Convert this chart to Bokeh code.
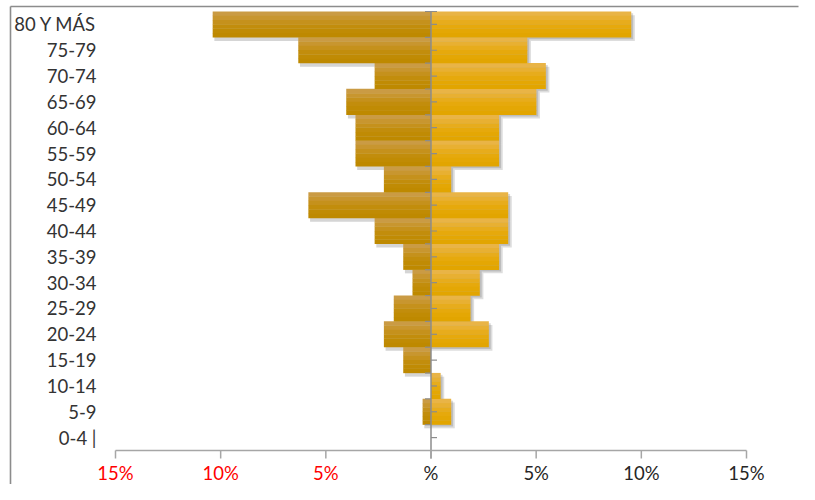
from bokeh.plotting import figure
from bokeh.models import Range1d, ColumnDataSource
from bokeh.embed import file_html
from bokeh.resources import INLINE

# ---- data (percent of population) ----
ages = ["0-4 |", "5-9", "10-14", "15-19", "20-24", "25-29", "30-34", "35-39",
        "40-44", "45-49", "50-54", "55-59", "60-64", "65-69", "70-74", "75-79", "80 Y MÁS"]
left_pct = [0, 0.40, 0, 1.32, 2.24, 1.77, 0.88, 1.32, 2.68, 5.83, 2.24, 3.59, 3.59,
            4.03, 2.68, 6.31, 10.38]
right_pct = [0, 0.96, 0.46, 0, 2.75, 1.88, 2.32, 3.24, 3.67, 3.67, 0.96, 3.24, 3.24,
             5.01, 5.46, 4.58, 9.52]
x_ticks = [-15, -10, -5, 0, 5, 10, 15]
x_tick_labels = ["15%", "10%", "5%", "%", "5%", "10%", "15%"]
x_tick_colors = ["#FF0000", "#FF0000", "#FF0000", "#262626", "#262626", "#262626", "#262626"]

FONT = "Lato"
W, H = 799, 484
# layout geometry (canvas pixels)
X0_PX, PX_PER_PCT = 430.5, 631.0 / 30.0
Y0_PX, PX_PER_ROW = 437.1, 439.0 / 17.0


def px_to_x(px):
    return (px - X0_PX) / PX_PER_PCT


def px_to_y(py):
    return (Y0_PX - py) / PX_PER_ROW


p = figure(width=W, height=H, output_backend="svg", toolbar_location=None,
           x_range=Range1d(px_to_x(0), px_to_x(W)),
           y_range=Range1d(px_to_y(H), px_to_y(0)),
           min_border=0, x_axis_type=None, y_axis_type=None)
p.outline_line_color = None
p.xgrid.visible = False
p.ygrid.visible = False
p.background_fill_color = "white"
p.border_fill_color = "white"

n = len(ages)
idx = list(range(n))
neg_left = [-v for v in left_pct]
src = ColumnDataSource(dict(
    y=idx, l=neg_left, r=right_pct, zero=[0] * n,
    shl=[v + 0.08 if v < 0 else 0 for v in neg_left],
    shr=[v + 0.17 if v > 0 else 0 for v in right_pct],
    shr2=[v + 0.09 if v > 0 else 0 for v in right_pct],
    ysh=[i - 0.14 for i in idx], ysh2=[i - 0.07 for i in idx],
))

# outer chart border (top and left edges)
bx, by = px_to_x(10), px_to_y(6)
p.segment(x0=[bx, bx], y0=[by, by], x1=[bx, px_to_x(W - 1)], y1=[px_to_y(H), by],
          line_color="#8c8c8c", line_width=1.6)

# shadows
p.hbar(y="ysh", left="shl", right="zero", height=1.0, source=src,
       fill_color="#404040", fill_alpha=0.22, line_color=None)
p.hbar(y="ysh", left="zero", right="shr", height=1.0, source=src,
       fill_color="#404040", fill_alpha=0.18, line_color=None)
p.hbar(y="ysh2", left="zero", right="shr2", height=1.0, source=src,
       fill_color="#404040", fill_alpha=0.2, line_color=None)

# bars with a soft vertical gradient (top -> bottom)
left_cols = ["#CA9B44", "#C8962F", "#C5911C", "#C28D0C", "#C08B04", "#BE8900"]
right_cols = ["#E9B446", "#E8B032", "#E7AC1C", "#E6A90C", "#E4A704", "#E2A500"]
nb = len(left_cols)
for k, (cl, cr) in enumerate(zip(left_cols, right_cols)):
    off = 0.5 - (k + 0.5) / nb
    src.data["yb%d" % k] = [i + off for i in idx]
    p.hbar(y="yb%d" % k, left="l", right="zero", height=1.0 / nb + 0.01,
           source=src, fill_color=cl, line_color=None)
    p.hbar(y="yb%d" % k, left="zero", right="r", height=1.0 / nb + 0.01,
           source=src, fill_color=cr, line_color=None)

# vertical axis at zero with tick marks
axis_col = "#8c8c8c"
y_axis_bottom = px_to_y(458)
p.segment(x0=[0], x1=[0], y0=[n - 0.5], y1=[y_axis_bottom], line_color=axis_col, line_width=1.5)
tk = 6.0 / PX_PER_PCT
p.segment(x0=[-tk] * n, x1=[0] * n, y0=[i + 0.5 for i in idx], y1=[i + 0.5 for i in idx],
          line_color=axis_col, line_width=1.2)
p.segment(x0=[0] * n, x1=[tk] * n, y0=idx, y1=idx, line_color=axis_col, line_width=1.2)
p.segment(x0=[0], x1=[tk], y0=[n - 0.5], y1=[n - 0.5], line_color=axis_col, line_width=1.2)

# horizontal axis
xcol = "#a6a6a6"
p.segment(x0=[x_ticks[0]], x1=[x_ticks[-1]], y0=[-0.5], y1=[-0.5], line_color=xcol, line_width=1.5)
p.segment(x0=x_ticks, x1=x_ticks, y0=[-0.5] * len(x_ticks), y1=[y_axis_bottom] * len(x_ticks),
          line_color=xcol, line_width=1.5)
p.text(x=x_ticks, y=[px_to_y(472.5)] * len(x_ticks), text=x_tick_labels, text_color=x_tick_colors,
       text_align="center", text_baseline="middle", text_font={"value": FONT},
       text_font_size={"value": "18.5px"})

# category labels
p.text(x=[px_to_x(96)] * n, y=idx, text=ages, text_color="#333333",
       text_align="right", text_baseline="middle", text_font={"value": FONT},
       text_font_size={"value": "18.5px"})

open("out.html", "w").write(file_html(p, INLINE))
